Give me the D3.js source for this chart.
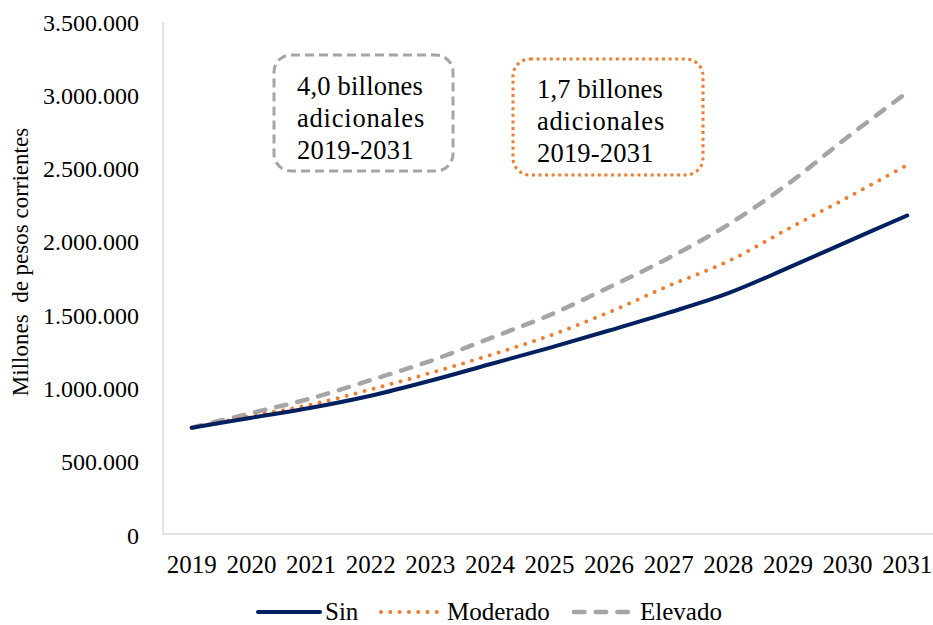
<!DOCTYPE html>
<html>
<head>
<meta charset="utf-8">
<script src="https://cdn.jsdelivr.net/npm/d3@7/dist/d3.min.js"></script>
<style>
  body { margin: 0; background: #fff; }
</style>
</head>
<body>
<div id="chart"></div>
<script>
// Chart data (millones de pesos corrientes)
const years = [2019, 2020, 2021, 2022, 2023, 2024, 2025, 2026, 2027, 2028, 2029, 2030, 2031];
const sin = [732000, 800000, 868000, 950000, 1052000, 1165000, 1277000, 1395000, 1517000, 1650000, 1822000, 2002000, 2180000];
const moderado = [732000, 812000, 890000, 993000, 1105000, 1227000, 1360000, 1520000, 1700000, 1868000, 2088000, 2303000, 2524000];
const elevado = [732000, 832000, 932000, 1057000, 1187000, 1342000, 1500000, 1690000, 1890000, 2118000, 2395000, 2715000, 3020000];
const yTicks = [0, 500000, 1000000, 1500000, 2000000, 2500000, 3000000, 3500000];
const seriesNames = ['Sin', 'Moderado', 'Elevado'];
const notes = [
    ['4,0 billones', 'adicionales', '2019-2031'],
    ['1,7 billones', 'adicionales', '2019-2031']
];

const width = 933, height = 625;
const plot = { left: 162, right: 937, top: 22, bottom: 535 };
const serif = '"Liberation Serif", "Times New Roman", Times, serif';

const styles = {
    Sin: { color: '#002060', width: 4, dash: null, cap: 'round' },
    Moderado: { color: '#ED7D31', width: 4, dash: '0,9.3', cap: 'round' },
    Elevado: { color: '#A5A5A5', width: 4.5, dash: '10.5,11.2', cap: 'round' }
};

const svg = d3.select('#chart').append('svg')
    .attr('width', width)
    .attr('height', height)
    .style('font-family', serif);

const x = d3.scaleBand().domain(years).range([plot.left, plot.right]).padding(0);
const y = d3.scaleLinear().domain([0, 3500000]).range([plot.bottom, plot.top]);
const cx = d => x(d) + x.bandwidth() / 2;

// thousands separator as dot
const fmt = v => d3.format(',')(v).replace(/,/g, '.');

// axes lines
svg.append('line')
    .attr('x1', plot.left + 1).attr('x2', plot.left + 1)
    .attr('y1', plot.top).attr('y2', plot.bottom)
    .attr('stroke', '#d9d9d9').attr('stroke-width', 1.5);
svg.append('line')
    .attr('x1', plot.left + 1).attr('x2', width)
    .attr('y1', plot.bottom - 1).attr('y2', plot.bottom - 1)
    .attr('stroke', '#d9d9d9').attr('stroke-width', 1.5);

// y tick labels
svg.append('g').selectAll('text')
    .data(yTicks)
    .join('text')
    .attr('x', 139)
    .attr('y', d => y(d) + 8.5)
    .attr('text-anchor', 'end')
    .attr('font-size', 24)
    .text(d => fmt(d));

// x tick labels
svg.append('g').selectAll('text')
    .data(years)
    .join('text')
    .attr('x', d => cx(d))
    .attr('y', 573)
    .attr('text-anchor', 'middle')
    .attr('font-size', 25)
    .text(d => d);

// y title
svg.append('text')
    .attr('transform', 'translate(28,262) rotate(-90)')
    .attr('text-anchor', 'middle')
    .attr('font-size', 23)
    .style('white-space', 'pre')
    .text('Millones  de pesos corrientes');

// lines
const line = d3.line()
    .x((d, i) => cx(years[i]))
    .y(d => y(d))
    .curve(d3.curveCatmullRom.alpha(0.5));

const seriesData = [sin, moderado, elevado];
seriesNames.slice().reverse().forEach(name => {
    const vals = seriesData[seriesNames.indexOf(name)];
    const s = styles[name];
    svg.append('path')
        .datum(vals)
        .attr('d', line)
        .attr('fill', 'none')
        .attr('stroke', s.color)
        .attr('stroke-width', s.width)
        .attr('stroke-linecap', s.cap)
        .attr('stroke-dasharray', s.dash);
});

// annotation boxes
const boxes = [
    { x: 274, y: 55, w: 179, h: 116, stroke: '#A5A5A5', dash: '9,5', tx: 297, base: [95, 127, 159] },
    { x: 513, y: 59, w: 190, h: 116, stroke: '#ED7D31', dash: '3,3.6', tx: 537, base: [98, 130, 162] }
];
boxes.forEach((b, i) => {
    svg.append('rect')
        .attr('x', b.x).attr('y', b.y)
        .attr('width', b.w).attr('height', b.h)
        .attr('rx', 17).attr('ry', 17)
        .attr('fill', 'none')
        .attr('stroke', b.stroke)
        .attr('stroke-width', 3)
        .attr('stroke-dasharray', b.dash);
    svg.append('g').selectAll('text')
        .data(notes[i])
        .join('text')
        .attr('x', b.tx)
        .attr('y', (d, j) => b.base[j])
        .attr('font-size', 26.5)
        .attr('letter-spacing', (d, j) => j === 1 ? 0.8 : 0.2)
        .text(d => d);
});

// legend
const legend = [
    { name: 'Sin', x1: 258, x2: 320, tx: 325 },
    { name: 'Moderado', x1: 381, x2: 438, tx: 447 },
    { name: 'Elevado', x1: 574, x2: 628, tx: 640 }
];
const lg = svg.append('g');
legend.forEach(l => {
    const s = styles[l.name];
    lg.append('line')
        .attr('x1', l.x1).attr('x2', l.x2)
        .attr('y1', 612).attr('y2', 612)
        .attr('stroke', s.color)
        .attr('stroke-width', s.width)
        .attr('stroke-linecap', s.cap)
        .attr('stroke-dasharray', s.dash);
    lg.append('text')
        .attr('x', l.tx)
        .attr('y', 620)
        .attr('font-size', 25)
        .text(l.name);
});
</script>
</body>
</html>
